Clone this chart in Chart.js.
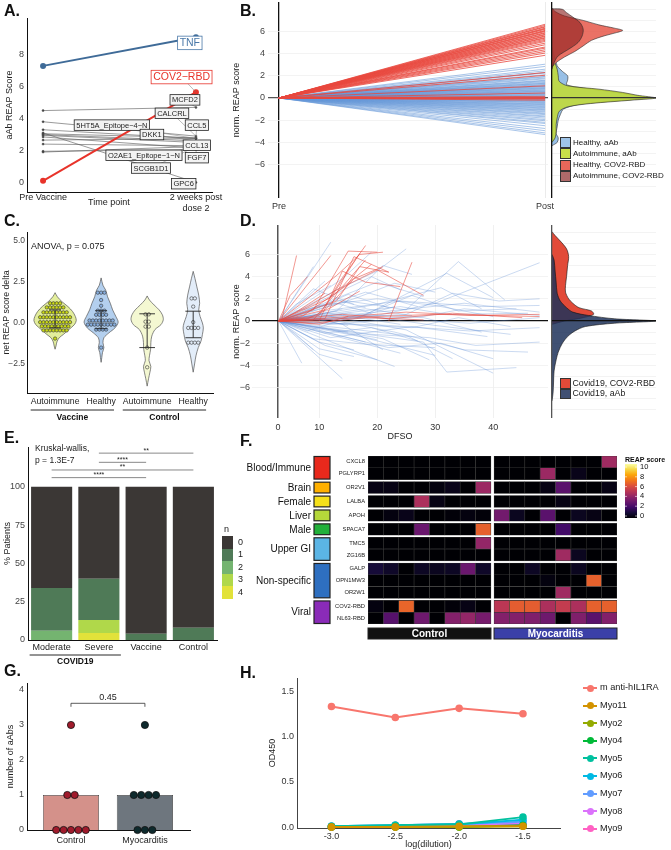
<!DOCTYPE html>
<html>
<head>
<meta charset="utf-8">
<title>REAP figure</title>
<script src="https://cdn.jsdelivr.net/npm/chart.js@4.4.1/dist/chart.umd.min.js"></script>
<style>
  body { margin: 0; width: 671px; height: 850px; position: relative; overflow: hidden; background: #fff;
         font-family: "Liberation Sans", Arial, sans-serif; color: #1a1a1a; }
  canvas, .txt, .sw { position: absolute; }
  .txt { white-space: nowrap; line-height: 1; z-index: 2; color: #1a1a1a; }
  .panel { font-size: 16px; font-weight: bold; color: #111; }
  .sw { box-sizing: border-box; border: 0.8px solid #333; z-index: 2; }
</style>
</head>
<body>
<div class="txt panel" style="left:4px;top:3px">A.</div>
<div class="txt panel" style="left:240px;top:3px">B.</div>
<div class="txt panel" style="left:4px;top:213px">C.</div>
<div class="txt panel" style="left:240px;top:213px">D.</div>
<div class="txt panel" style="left:4px;top:430px">E.</div>
<div class="txt panel" style="left:240px;top:433px">F.</div>
<div class="txt panel" style="left:4px;top:663px">G.</div>
<div class="txt panel" style="left:240px;top:665px">H.</div>
<div class="txt" style="left:88px;top:198px;font-size:9px">Time point</div>
<div class="txt" style="left:31px;top:242px;font-size:9px">ANOVA, p = 0.075</div>
<div class="txt" style="left:35px;top:444px;font-size:8.5px">Kruskal-wallis,</div>
<div class="txt" style="left:35px;top:456px;font-size:8.5px">p = 1.3E-7</div>
<div class="txt" style="left:224px;top:525px;font-size:9px">n</div>
<script>
// === A: aAb REAP scores before / after vaccine
const aTimes = ['Pre Vaccine', ['2 weeks post', 'dose 2']];
const aTnf = [7.3, 9.1];
const aCov = [0.1, 5.65];
const aOther = [
  [4.5, 4.7], [3.8, 2.9], [3.3, 2.75], [3.1, 0.0], [3.05, 2.8], [3.0, 2.6],
  [2.95, 2.5], [2.85, 2.15], [2.65, 2.75], [2.4, 2.3], [1.95, 2.05], [1.9, 2.25]
];
const aYTicks = [0, 2, 4, 6, 8];
const aLabText = ['TNF', 'COV2\u2212RBD', 'MCFD2', 'CALCRL', '5HT5A_Epitope\u22124\u2212N', 'CCL5', 'DKK1', 'CCL13',
  'O2AE1_Epitope\u22121\u2212N', 'FGF7', 'SCGB1D1', 'GPC6'];
const aLabX = [0.96, 0.906, 0.928, 0.843, 0.45, 1.006, 0.712, 1.006, 0.66, 1.006, 0.706, 0.92];
const aLabY = [8.74, 6.6, 5.17, 4.33, 3.59, 3.59, 3.0, 2.33, 1.7, 1.55, 0.9, -0.08];
const aLabTo = [9.1, 5.65, 4.7, 2.9, 2.75, 2.8, 2.6, 2.5, 2.15, 2.05, 2.25, 0.0];

// === B: normalised REAP score pre -> post
const bTimes = ['Pre', 'Post'];
const bRedPost = [6.65, 6.55, 6.45, 6.4, 6.3, 6.25, 6.2, 6.1, 6.05, 6.0, 5.9, 5.85, 5.75, 5.7, 5.6, 5.55, 5.45, 5.4,
  5.3, 5.2, 5.1, 4.95, 4.8, 4.6, 4.5, 4.35, 4.2, 4.05, 3.85, 2.3, 2.05, 1.1, 0.45, 0.15, 0.05, 0.0, 0.0, -0.05, -0.1, -0.2];
const bBluePost = [3.05, 2.85, 2.6, 2.45, 2.3, 2.25, 2.1, 1.95, 1.9, 1.8, 1.72, 1.6, 1.55, 1.48, 1.4, 1.33, 1.3, 1.22,
  1.18, 1.1, 1.05, 1.02, 0.95, 0.9, 0.86, 0.8, 0.74, 0.7, 0.63, 0.6, 0.55, 0.48, 0.45, 0.4, 0.33, 0.3, 0.25, 0.2, 0.14,
  0.1, 0.06, 0.02, -0.03, -0.08, -0.12, -0.18, -0.22, -0.27, -0.33, -0.38, -0.42, -0.5, -0.55, -0.6, -0.66, -0.72,
  -0.78, -0.85, -0.9, -0.97, -1.05, -1.1, -1.18, -1.25, -1.35, -1.42, -1.5, -1.62, -1.7, -1.82, -1.95, -2.05, -2.2,
  -2.3, -2.5, -2.75, -2.95, -3.15, -3.3];
const bYTicks = [-8, -7, -6, -5, -4, -3, -2, -1, 0, 1, 2, 3, 4, 5, 6, 7, 8];
const bDensLabels = ['Healthy, aAb', 'Autoimmune, aAb', 'Healthy, COV2-RBD', 'Autoimmune, COV2-RBD'];
const bDensColors = ['rgba(141,185,228,0.9)', 'rgba(196,220,48,0.85)', 'rgba(232,98,84,0.9)', 'rgba(140,32,30,0.62)'];
const bDensSwatch = ['#9fc4e8', '#c9df4a', '#e8675a', '#b06a6a'];
// [score, density]
const bDensHealthyAab = [[-4.3, 0], [-4.0, 0.05], [-3.6, 0.06], [-3.2, 0.04], [-2.6, 0.05], [-2.0, 0.06], [-1.5, 0.08],
  [-1.0, 0.11], [-0.6, 0.25], [-0.3, 0.55], [0, 0.9], [0.3, 0.75], [0.6, 0.55], [0.9, 0.3], [1.2, 0.14], [1.6, 0.15],
  [2.0, 0.15], [2.4, 0.1], [2.9, 0.05], [3.5, 0.03], [4.2, 0.01], [4.6, 0]];
const bDensAutoAab = [[-4.0, 0], [-3.6, 0.03], [-3.0, 0.04], [-2.4, 0.04], [-1.8, 0.05], [-1.2, 0.07], [-0.8, 0.15],
  [-0.5, 0.37], [-0.2, 0.76], [0, 1.0], [0.25, 0.82], [0.5, 0.68], [0.8, 0.45], [1.1, 0.15], [1.5, 0.07], [2.0, 0.06],
  [2.6, 0.05], [3.1, 0.03], [3.6, 0]];
const bDensHealthyCov = [[2.8, 0], [3.2, 0.04], [3.7, 0.12], [4.2, 0.22], [4.7, 0.3], [5.2, 0.38], [5.6, 0.5],
  [5.9, 0.62], [6.1, 0.68], [6.3, 0.6], [6.6, 0.45], [7.0, 0.3], [7.4, 0.12], [7.8, 0.03], [8.1, 0]];
const bDensAutoCov = [[2.6, 0], [3.2, 0.02], [3.8, 0.06], [4.4, 0.16], [5.0, 0.25], [5.6, 0.29], [6.2, 0.3], [6.8, 0.27],
  [7.3, 0.2], [7.7, 0.14], [8.0, 0.1], [8.05, 0]];

// === C: net REAP score delta
const cGroups = ['Autoimmune', 'Healthy', 'Autoimmune', 'Healthy'];
const cSuper = ['Vaccine', 'Control'];
const cYTicks = [-2.5, 0, 2.5, 5];
// [score, half width]
const cViolins = [
  [[1.85, 0], [1.6, 0.05], [1.3, 0.15], [1.0, 0.28], [0.7, 0.38], [0.4, 0.44], [0.15, 0.46], [-0.1, 0.42], [-0.4, 0.3],
   [-0.7, 0.18], [-0.9, 0.09], [-1.15, 0.04], [-1.4, 0.02], [-1.6, 0]],
  [[2.75, 0], [2.3, 0.04], [2.0, 0.1], [1.6, 0.14], [1.2, 0.2], [0.8, 0.25], [0.4, 0.32], [0.05, 0.37], [-0.3, 0.3],
   [-0.6, 0.17], [-0.9, 0.06], [-1.2, 0.04], [-1.5, 0.06], [-1.8, 0.03], [-2.1, 0.015], [-2.4, 0]],
  [[1.65, 0], [1.4, 0.05], [1.1, 0.15], [0.8, 0.26], [0.5, 0.33], [0.2, 0.35], [-0.1, 0.3], [-0.4, 0.17], [-0.8, 0.1],
   [-1.2, 0.08], [-1.6, 0.075], [-2.0, 0.05], [-2.3, 0.04], [-2.65, 0.08], [-3.0, 0.06], [-3.4, 0.03], [-3.85, 0]],
  [[3.15, 0], [2.7, 0.04], [2.2, 0.08], [1.7, 0.12], [1.2, 0.14], [0.8, 0.12], [0.4, 0.15], [0, 0.2], [-0.3, 0.22],
   [-0.7, 0.2], [-1.1, 0.17], [-1.5, 0.11], [-2.0, 0.06], [-2.5, 0.03], [-3.0, 0]]
];
// [score, number of dots in that row]
const cDots = [
  [[1.2, 4], [0.95, 6], [0.65, 8], [0.35, 10], [0.05, 10], [-0.2, 9], [-0.45, 8], [-0.95, 1]],
  [[1.85, 3], [1.4, 1], [1.05, 1], [0.75, 3], [0.5, 4], [0.15, 8], [-0.1, 9], [-0.4, 4], [-1.5, 1]],
  [[0.53, 2], [0.08, 2], [-0.22, 2], [-1.5, 1], [-2.7, 1]],
  [[1.5, 2], [1.0, 1], [0.05, 1], [-0.3, 4], [-1.2, 4]]
];
const cMean = [0.25, 0.2, -0.47, -0.09];
const cSd = [0.55, 0.55, 1.03, 0.81];
const cFill = ['#e3ee9c', '#b3cfee', '#f4f8d2', '#e3edf9'];
const cDotFill = ['#c9d816', '#86aee0', '#f4f8d2', '#e3edf9'];

// === D: trajectories over days from symptom onset
const dTicks = [2.9, 10, 20, 30, 40];
const dTickLabels = ['0', '10', '20', '30', '40'];
const dBlue = [
  [[3, 0], [7, -3.8]], [[3, 0], [6, 1.5], [12, 3.2]], [[3, 0], [9, 4.9]], [[3, 0], [12, 7.1]],
  [[3, 0], [10, -2.5], [16, -3.2]], [[3, 0], [14, -5.2]], [[3, 0], [8, 0.8], [15, 2.4], [22, 1.2]],
  [[3, 0], [11, -1.1], [19, -0.6], [27, -1.8]], [[3, 0], [13, 2.8], [20, 4.5], [25, 6.5]], [[3, 0], [18, 1.1], [26, 0.5]],
  [[3, 0], [16, -1.8], [24, -2.9]], [[3, 0], [20, 3.5], [28, 2.2]], [[3, 0], [9, -0.6], [17, -1.4], [30, -3.1]],
  [[3, 0], [12, 0.4], [22, 0.9], [35, 1.6], [48, 0.8]], [[3, 0], [15, 1.8], [25, 1.0], [34, 5.35], [42, 1.9]],
  [[3, 0], [17, 0.3], [32, 4.3], [40, 2.1]], [[3, 0], [10, 0.6], [25, -0.8], [40, -4.7]],
  [[3, 0], [14, -0.9], [28, -1.9], [32, -4.6], [44, -4.2]], [[3, 0], [20, 0.5], [30, 1.6], [48, 5.25]],
  [[3, 0], [11, -2.2], [20, -3.5]], [[3, 0], [6, -1.2], [9, -2.6]], [[3, 0], [8, 2.2], [11, 3.6]],
  [[3, 0], [19, -1.2], [29, -1.5], [37, -2.2], [48, -1.9]], [[3, 0], [22, -0.4], [36, -0.9], [48, -0.6]],
  [[3, 0], [12, 1.0], [24, 1.8], [38, 1.3], [48, 1.4]], [[3, 0], [16, 0.2], [26, 2.3], [34, 0.9], [44, 1.1]],
  [[3, 0], [7, 0.5], [14, -0.3], [21, -2.6]], [[3, 0], [9, -1.6], [18, -2.1], [30, -2.4]],
  [[3, 0], [13, 0.9], [21, 5.0], [26, 4.2]], [[3, 0], [15, -0.7], [25, -1.3], [33, -3.4]],
  [[3, 0], [10, 1.4], [20, 2.0], [30, 1.4], [40, 0.4]], [[3, 0], [12, -0.3], [24, 0.2], [36, -0.2], [48, 0.3]],
  [[3, 0], [18, 2.6], [27, 1.3]], [[3, 0], [8, -0.9], [17, 0.6], [28, 0.3], [38, -1.0]], [[3, 0], [21, -1.6], [29, -3.5]],
  [[3, 0], [14, 3.8], [19, 6.2]], [[3, 0], [25, 0.6], [33, 2.5], [41, 1.8], [48, 2.0]],
  [[3, 0], [11, 0.2], [23, -1.0], [35, -2.6], [46, -2.8]], [[3, 0], [9, 2.9], [16, 1.5]],
  [[3, 0], [6, 0.9], [13, 1.6], [19, 0.7]], [[3, 0], [17, -2.9], [23, -4.1]], [[3, 0], [24, 1.3], [32, 0.6], [46, 0.7]],
  [[3, 0], [12, -1.5], [26, -0.5], [39, -1.4]], [[3, 0], [19, 4.0], [24, 2.8]], [[3, 0], [7, -0.4], [12, -1.1], [18, -1.9]],
  [[3, 0], [28, 0.4], [35, 1.1], [48, 0.5]], [[3, 0], [15, 0.7], [30, -0.4], [43, -1.2]],
  [[3, 0], [20, 1.5], [31, 3.0], [38, 1.1]], [[3, 0], [10, -3.0], [14, -3.6]], [[3, 0], [16, 2.0], [23, 3.4], [30, 2.6]],
  [[3, 0], [22, -2.4], [31, -2.0], [40, -3.4]], [[3, 0], [26, -0.6], [34, 0.3], [43, -0.5]],
  [[3, 0], [8, 0.3], [14, 1.1]], [[3, 0], [9, -0.5], [15, -1.0]], [[3, 0], [11, 0.7], [17, 0.4], [23, 1.3]],
  [[3, 0], [12, -0.8], [20, -1.7]], [[3, 0], [13, 1.9], [18, 1.2]], [[3, 0], [10, -1.9], [16, -2.6]],
  [[3, 0], [14, 0.5], [24, -0.3]], [[3, 0], [6, 0.3], [10, 0.1], [15, -0.4]]
];
const dRed = [
  [[3.5, 0], [6.1, 5.9]], [[3, 0], [12, 2.1], [17, 6.1]], [[3, 0], [9, 1.0], [15, 6.3], [20, 6.2]],
  [[3, 0], [10, 0.5], [14, 3.9], [18, 6.8]], [[3, 0], [11, 0.2], [16, 5.8], [22, 4.4]], [[3, 0], [12, 5.9]],
  [[3, 0], [8, 1.3], [14, 3.1], [18, 5.5]], [[3, 0], [13, 1.8], [17, 4.9], [22, 4.4]],
  [[3, 0], [7, 0.4], [15, 3.3], [20, 4.6], [28, 2.3]], [[3, 0], [9, 0.1], [13, 2.6], [19, 5.1]], [[3, 0], [6, 0.8], [11, 2.5]],
  [[3, 0], [10, 0], [14, 4.5], [18, 3.5], [24, 3.1]], [[3, 0], [8, 0.2], [12, 1.2], [17, 2.7]], [[22, 0], [26, 5.3]],
  [[3, 0], [10, 0.1], [20, 0.4], [30, 0.6], [48, 0.4]], [[3, 0], [12, 0.3], [25, 0.8], [36, 0.5], [48, 0.6]],
  [[3, 0], [9, -0.2], [18, 0.3], [28, 0.1]], [[3, 0], [14, 0.6], [22, 0.2], [33, 0.7], [45, 0.3]],
  [[3, 0], [5, 2.3], [8, 4.0]], [[3, 0], [11, 1.0], [16, 3.8], [21, 4.9]], [[3, 0], [10, -0.3], [15, 0.4]],
  [[3, 0], [7, 1.6], [13, 4.1], [17, 6.0], [21, 6.2]]
];
const dDensLabels = ['Covid19, COV2-RBD', 'Covid19, aAb'];
const dDensColors = ['rgba(226,74,56,1)', 'rgba(30,50,90,0.85)'];
const dDensSwatch = ['#e24a38', '#405073'];
const dDensCov = [[-0.3, 0], [0, 0.12], [0.3, 0.3], [0.6, 0.4], [0.9, 0.38], [1.2, 0.26], [1.6, 0.2], [2.0, 0.16],
  [2.6, 0.13], [3.2, 0.13], [4.0, 0.14], [5.0, 0.15], [5.8, 0.16], [6.5, 0.14], [7.2, 0.08], [7.7, 0.03], [8.05, 0]];
const dDensAab = [[-7.2, 0], [-6.5, 0.01], [-5.5, 0.015], [-4.5, 0.02], [-3.5, 0.04], [-2.8, 0.06], [-2.0, 0.1],
  [-1.4, 0.15], [-0.9, 0.22], [-0.5, 0.32], [-0.2, 0.6], [0, 1.0], [0.2, 0.6], [0.5, 0.35], [0.8, 0.2], [1.2, 0.14],
  [1.8, 0.08], [2.5, 0.05], [3.5, 0.04], [4.5, 0.03], [5.5, 0.02], [6.0, 0]];

// === E: % patients by number of aAbs
const eCats = ['Moderate', 'Severe', 'Vaccine', 'Control'];
const eLevels = ['0', '1', '2', '3', '4'];
const eColors = ['#3b3735', '#4f7a57', '#74b470', '#b0d84a', '#e2e23a'];
const eN0 = [66, 60, 96, 92];
const eN1 = [28, 27, 4, 8];
const eN2 = [6, 0, 0, 0];
const eN3 = [0, 8.5, 0, 0];
const eN4 = [0, 4.5, 0, 0];
const eYTicks = [0, 25, 50, 75, 100];
// [from, to, height, label]
const eBrackets = [[1, 3, 122, '**'], [1, 2, 116, '****'], [0, 3, 111, '**'], [0, 2, 106, '****']];

// === F: heatmap
const fGenes = ['CXCL8', 'PGLYRP1', 'OR2V1', 'LALBA', 'APOH', 'SPACA7', 'TMC5', 'ZG16B', 'GALP', 'OPN1MW3', 'OR2W1', 'COV2-RBD', 'NL63-RBD'];
const fGroupNames = ['Blood/Immune', 'Brain', 'Female', 'Liver', 'Male', 'Upper GI', 'Non-specific', 'Viral'];
const fGroupSizes = [2, 1, 1, 1, 1, 2, 3, 2];
const fGroupColors = ['#e8291c', '#ffb000', '#f5e01a', '#b5d83a', '#22b03a', '#5bb5e5', '#2e6fc0', '#8a2bb8'];
const fConditions = ['Control', 'Myocarditis'];
const fCondColors = ['#111111', '#3b40a8'];
const fScores = [
  [0, 0, 0, 0, 0, 0, 0, 0, 0, 0, 0, 0, 0, 0, 0, 4.3],
  [0, 0, 0, 0, 0, 0, 0, 0, 0, 0, 0, 4.2, 0, 0.4, 0, 0],
  [0.3, 0.3, 0, 0, 0.2, 0.4, 0, 4.2, 0, 0, 0, 0.3, 2.6, 0, 0, 0.3],
  [0, 0, 0, 4.6, 0.3, 0, 0, 0, 0, 0, 0, 0, 0.3, 0, 0, 0],
  [0, 0.2, 0.4, 0, 0, 0.1, 0.2, 0.1, 3.2, 0.5, 0, 2.6, 0, 0.5, 0.3, 0],
  [0, 0, 0, 3.0, 0, 0, 0, 6.4, 0, 0, 0, 0, 2.0, 0, 0, 0],
  [0, 0, 0, 0, 0, 0, 0, 4.0, 0, 0, 0, 0, 0, 0, 0, 0],
  [0, 0, 0, 0, 0, 0, 0, 0, 0, 0, 0, 0, 4.3, 0.5, 0, 0],
  [1.0, 0.7, 0, 0.6, 0.5, 0.6, 3.0, 0.7, 0, 0, 0.6, 0, 0, 0.5, 0, 0],
  [0, 0, 0, 0, 0, 0, 0, 0, 0, 0, 0, 0.2, 0, 0, 6.4, 0],
  [0, 0, 0, 0, 0, 0, 0, 0, 0, 0, 0, 0, 4.3, 0, 0, 0],
  [0.2, 0, 6.5, 0, 0, 0.1, 0.3, 0, 5.0, 6.3, 6.3, 4.6, 5.2, 4.6, 6.4, 6.4],
  [0, 2.5, 0, 3.1, 0, 3.6, 4.0, 3.3, 3.6, 3.6, 3.5, 3.1, 0, 3.5, 2.6, 3.6]
];
const fScaleTicks = [0, 2, 4, 6, 8, 10];
const infernoStops = ['#000004', '#160b39', '#420a68', '#6a176e', '#932667', '#bc3754', '#dd513a', '#f37819', '#fca50a', '#f6d746', '#fcffa4'];

// === G: number of aAbs
const gCats = ['Control', 'Myocarditis'];
const gBars = [1, 1];
const gDotRows = [[[3, 1], [1, 2], [0, 5]], [[3, 1], [1, 4], [0, 3]]];
const gBarColors = ['#d4918a', '#6e767e'];
const gDotColors = ['#a01b2c', '#0e2a2d'];
const gYTicks = [0, 1, 2, 3, 4];
const gPval = '0.45';

// === H: ELISA OD450
const hDilution = [-3, -2.5, -2, -1.5];
const hNames = ['m anti-hIL1RA', 'Myo11', 'Myo2', 'Myo4', 'Myo5', 'Myo6', 'Myo7', 'Myo8', 'Myo9'];
const hColors = ['#f8766d', '#d39200', '#93aa00', '#00ba38', '#00c19f', '#00b9e3', '#619cff', '#db72fb', '#ff61c3'];
const hOD = [
  [1.33, 1.21, 1.31, 1.25],
  [0, 0, 0.01, 0.01],
  [0, 0, 0, 0.01],
  [0, 0, 0, 0.02],
  [0.01, 0.02, 0.03, 0.11],
  [0.01, 0.02, 0.03, 0.08],
  [0.01, 0.02, 0.035, 0.06],
  [0.005, 0.01, 0.02, 0.04],
  [0, 0.005, 0.01, 0.025]
];
const hYTicks = [0, 0.5, 1, 1.5];

// ---------------------------------------------------------------
const FONT = '"Liberation Sans", Arial, sans-serif';
Chart.defaults.font.family = FONT;
Chart.defaults.font.size = 9;
Chart.defaults.color = '#333';
Chart.defaults.animation = false;
Chart.defaults.responsive = false;
Chart.defaults.plugins.legend.display = false;
Chart.defaults.plugins.tooltip.enabled = false;
Chart.defaults.elements.point.radius = 0;
Chart.defaults.elements.point.hoverRadius = 0;

function canvasAt(r) {
  const c = document.createElement('canvas');
  c.width = r[2]; c.height = r[3];
  c.style.cssText = `left:${r[0]}px;top:${r[1]}px;width:${r[2]}px;height:${r[3]}px`;
  document.body.appendChild(c);
  return c;
}
function padFor(cv, plot, yW, xH) {
  return { left: plot[0] - cv[0] - yW, top: plot[1] - cv[1], right: cv[0] + cv[2] - plot[2], bottom: cv[1] + cv[3] - plot[3] - xH };
}
const fixW = w => s => { s.width = w; s.paddingTop = 0; s.paddingBottom = 0; };
const fixH = h => s => { s.height = h; s.paddingLeft = 0; s.paddingRight = 0; };
const setTicks = vals => s => { s.ticks = vals.map(value => ({ value })); };
const minus = v => (v < 0 ? '\u2212' + Math.abs(v) : String(v));
const pts = arr => arr.map(([x, y]) => ({ x, y }));
const densPts = arr => arr.map(([y, x]) => ({ x, y }));
const noGrid = { display: false, drawTicks: false };
const blackBorder = { display: true, color: '#111', width: 1 };

function legendBox(items, colors, left, top, step, size, fontSize, opts = {}) {
  items.forEach((t, i) => {
    const sw = document.createElement('div');
    sw.className = 'sw';
    sw.style.cssText = `left:${left}px;top:${top + i * step}px;width:${opts.w || size}px;height:${size}px;background:${colors[i]}` +
      (opts.noBorder ? ';border:none' : '');
    document.body.appendChild(sw);
    const tx = document.createElement('div');
    tx.className = 'txt';
    tx.textContent = t;
    tx.style.cssText = `left:${left + (opts.textGap || size + 2)}px;top:${top + i * step + (size - fontSize) / 2}px;font-size:${fontSize}px`;
    document.body.appendChild(tx);
  });
}

// ---------- A ----------
{
  const cv = [0, 0, 230, 215], plot = [27, 18, 212, 192];
  const labels = {
    id: 'aLabels',
    afterDatasetsDraw(chart) {
      const { ctx, scales: { x, y } } = chart;
      ctx.save();
      aLabText.forEach((t, i) => {
        ctx.strokeStyle = '#777'; ctx.lineWidth = 0.5;
        ctx.beginPath();
        ctx.moveTo(x.getPixelForValue(aLabX[i]), y.getPixelForValue(aLabY[i]));
        ctx.lineTo(x.getPixelForValue(1), y.getPixelForValue(aLabTo[i]));
        ctx.stroke();
      });
      aLabText.forEach((t, i) => {
        const big = i < 2;
        const col = i === 0 ? '#4a78a8' : i === 1 ? '#e8332a' : '#222';
        const fs = big ? 10.5 : 7.5;
        ctx.font = `${fs}px ${FONT}`;
        const w = ctx.measureText(t).width + 4, h = fs + 3;
        const cx = x.getPixelForValue(aLabX[i]), cy = y.getPixelForValue(aLabY[i]);
        ctx.fillStyle = big ? '#fff' : '#f3f3f3';
        ctx.fillRect(cx - w / 2, cy - h / 2, w, h);
        ctx.strokeStyle = col; ctx.lineWidth = 0.8;
        ctx.strokeRect(cx - w / 2, cy - h / 2, w, h);
        ctx.fillStyle = col; ctx.textAlign = 'center'; ctx.textBaseline = 'middle';
        ctx.fillText(t, cx, cy + 0.5);
      });
      ctx.restore();
    }
  };
  new Chart(canvasAt(cv), {
    type: 'scatter',
    data: {
      datasets: [
        { data: aTnf.map((y, x) => ({ x, y })), showLine: true, borderColor: '#3f6b98', backgroundColor: '#3f6b98', borderWidth: 2, pointRadius: 2 },
        { data: aCov.map((y, x) => ({ x, y })), showLine: true, borderColor: '#e8332a', backgroundColor: '#e8332a', borderWidth: 2, pointRadius: 2 },
        ...aOther.map(p => ({ data: p.map((y, x) => ({ x, y })), showLine: true, borderColor: '#555', backgroundColor: '#333', borderWidth: 0.6, pointRadius: 1 }))
      ]
    },
    options: {
      layout: { padding: padFor(cv, plot, 27, 23) },
      scales: {
        x: { type: 'linear', min: -0.105, max: 1.105, afterFit: fixH(23), afterBuildTicks: setTicks([0, 1]),
             grid: noGrid, border: blackBorder, ticks: { padding: 0, maxRotation: 0, color: '#222', callback: (v, i) => aTimes[i] } },
        y: { min: -0.6, max: 10.3, afterFit: fixW(27), afterBuildTicks: setTicks(aYTicks), grid: noGrid, border: blackBorder,
             ticks: { padding: 3, color: '#444' }, title: { display: true, text: 'aAb REAP Score', padding: { top: 4, bottom: 0 }, color: '#222' } }
      }
    },
    plugins: [labels]
  });
}

// ---------- B ----------
{
  const cv = [230, 0, 340, 215], plot = [268, 2, 548, 198];
  const line = (v, color, w) => ({ data: [{ x: 0, y: 0 }, { x: 1, y: v }], showLine: true, borderColor: color, borderWidth: w });
  new Chart(canvasAt(cv), {
    type: 'scatter',
    data: { datasets: [...bRedPost.map(v => line(v, '#e8483e', 0.8)), ...bBluePost.map(v => line(v, 'rgba(100,150,215,0.8)', 0.7))] },
    options: {
      layout: { padding: padFor(cv, plot, 38, 17) },
      scales: {
        x: { type: 'linear', min: -0.041, max: 1.011, afterFit: fixH(17), afterBuildTicks: setTicks([0, 1]), border: { display: false },
             grid: { drawTicks: false, color: c => c.tick && c.tick.value === 0 ? '#111' : '#e6e6e6', lineWidth: c => c.tick && c.tick.value === 0 ? 1.3 : 0.8 },
             ticks: { padding: 3, color: '#333', callback: (v, i) => bTimes[i] } },
        y: { min: -9.02, max: 8.66, afterFit: fixW(38), afterBuildTicks: setTicks(bYTicks), border: { display: false },
             grid: { drawTicks: false, color: c => c.tick && c.tick.value === 0 ? '#555' : '#eeeeee', lineWidth: c => c.tick && c.tick.value === 0 ? 1.2 : 0.7 },
             ticks: { padding: 3, color: '#444', callback: v => (v % 2 === 0 && Math.abs(v) <= 6 ? minus(v) : null) },
             title: { display: true, text: 'norm. REAP score', padding: { top: 1, bottom: 0 }, color: '#222' } }
      }
    }
  });
  const cvd = [548, 0, 123, 215], plotd = [552, 2, 656, 198];
  const series = [bDensAutoCov, bDensHealthyCov, bDensAutoAab, bDensHealthyAab];
  const cols = [bDensColors[3], bDensColors[2], bDensColors[1], bDensColors[0]];
  new Chart(canvasAt(cvd), {
    type: 'scatter',
    data: { datasets: series.map((s, i) => ({ data: densPts(s), showLine: true, fill: 'shape', tension: 0.3, backgroundColor: cols[i], borderColor: '#2a2a2a', borderWidth: 0.6 })) },
    options: {
      layout: { padding: padFor(cvd, plotd, 0, 0) },
      scales: {
        x: { type: 'linear', min: 0, max: 1.0, afterFit: fixH(0), afterBuildTicks: setTicks([0]), ticks: { display: false }, border: { display: false },
             grid: { drawTicks: false, color: '#111', lineWidth: 1.3, z: 1 } },
        y: { min: -9.02, max: 8.66, afterFit: fixW(0), afterBuildTicks: setTicks(bYTicks), ticks: { display: false }, border: { display: false },
             grid: { drawTicks: false, color: '#eeeeee', lineWidth: 0.7 } },
        y2: { position: 'right', min: -9.02, max: 8.66, afterFit: fixW(0), afterBuildTicks: setTicks([0]), ticks: { display: false }, border: { display: false },
              grid: { drawTicks: false, color: '#333', lineWidth: 1.2, z: 1 } }
      }
    }
  });
  legendBox(bDensLabels, bDensSwatch, 560, 137, 11.3, 11, 8);
}

// ---------- C ----------
{
  const cv = [0, 212, 230, 214], plot = [27, 232, 213, 393];
  const violin = (c, prof) => prof.map(([y, w]) => ({ x: c + w, y })).concat(prof.slice().reverse().map(([y, w]) => ({ x: c - w, y })));
  const dots = (c, rows) => {
    const out = [];
    rows.forEach(([y, n]) => { for (let k = 0; k < n; k++) out.push({ x: c + (k - (n - 1) / 2) * 0.072, y }); });
    return out;
  };
  const seg = (a, b) => ({ data: [a, b], showLine: true, borderColor: '#222', borderWidth: 0.9 });
  const bars = [];
  cMean.forEach((m, i) => {
    const c = i + 1, lo = m - cSd[i], hi = m + cSd[i], hw = i < 2 ? 0.13 : 0.17;
    bars.push(seg({ x: c, y: lo }, { x: c, y: hi }));
    bars.push(seg({ x: c - hw, y: lo }, { x: c + hw, y: lo }));
    bars.push(seg({ x: c - hw, y: hi }, { x: c + hw, y: hi }));
  });
  const groupLabels = {
    id: 'cGroups',
    afterDraw(chart) {
      const { ctx, chartArea: a, scales: { x } } = chart;
      ctx.save();
      cSuper.forEach((name, g) => {
        const x0 = x.getPixelForValue(2 * g + 1 - 0.53), x1 = x.getPixelForValue(2 * g + 2 + 0.28);
        ctx.strokeStyle = '#111'; ctx.lineWidth = 0.9;
        ctx.beginPath(); ctx.moveTo(x0, a.bottom + 17); ctx.lineTo(x1, a.bottom + 17); ctx.stroke();
        ctx.font = `bold 8.5px ${FONT}`; ctx.fillStyle = '#111'; ctx.textAlign = 'center'; ctx.textBaseline = 'middle';
        ctx.fillText(name, (x0 + x1) / 2, a.bottom + 25);
      });
      ctx.restore();
    }
  };
  new Chart(canvasAt(cv), {
    type: 'scatter',
    data: {
      datasets: [
        ...bars,
        ...cDots.map((rows, i) => ({ data: dots(i + 1, rows), pointRadius: 1.7, pointBackgroundColor: cDotFill[i], pointBorderColor: '#333', pointBorderWidth: 0.6 })),
        ...cViolins.map((p, i) => ({ data: violin(i + 1, p), showLine: true, fill: 'shape', tension: 0.3, backgroundColor: cFill[i], borderColor: '#555', borderWidth: 0.7 }))
      ]
    },
    options: {
      layout: { padding: padFor(cv, plot, 27, 33) },
      scales: {
        x: { type: 'linear', min: 0.39, max: 4.43, afterFit: fixH(33), afterBuildTicks: setTicks([1, 2, 3, 4]), grid: noGrid, border: blackBorder,
             ticks: { padding: 3, color: '#222', font: { size: 8.7 }, callback: (v, i) => cGroups[i] } },
        y: { min: -4.27, max: 5.55, afterFit: fixW(27), afterBuildTicks: setTicks(cYTicks), grid: noGrid, border: blackBorder,
             ticks: { padding: 2, color: '#444', font: { size: 8.5 }, callback: v => (v < 0 ? '\u2212' : '') + Math.abs(v).toFixed(1) },
             title: { display: true, text: 'net REAP score delta', padding: { top: 1, bottom: 0 }, color: '#222', font: { size: 8.8 } } }
      }
    },
    plugins: [groupLabels]
  });
}

// ---------- D ----------
{
  const cv = [230, 212, 320, 233], plot = [252, 225, 548, 418];
  const traj = (p, color) => ({ data: pts(p), showLine: true, borderColor: color, borderWidth: 0.8 });
  new Chart(canvasAt(cv), {
    type: 'scatter',
    data: { datasets: [...dRed.map(p => traj(p, 'rgba(232,70,60,0.7)')), ...dBlue.map(p => traj(p, 'rgba(90,140,210,0.4)'))] },
    options: {
      layout: { padding: padFor(cv, plot, 22, 27) },
      scales: {
        x: { type: 'linear', min: -1.58, max: 49.45, afterFit: fixH(27), afterBuildTicks: setTicks(dTicks), border: { display: false },
             grid: { drawTicks: false, color: c => c.index === 0 ? '#555' : '#ececec', lineWidth: c => c.index === 0 ? 1.5 : 0.8 },
             ticks: { padding: 4, color: '#333', callback: (v, i) => dTickLabels[i] },
             title: { display: true, text: 'DFSO', padding: { top: 0, bottom: 3 }, color: '#222' } },
        y: { min: -8.74, max: 8.65, afterFit: fixW(22), afterBuildTicks: setTicks(bYTicks), border: { display: false },
             grid: { drawTicks: false, color: c => c.tick && c.tick.value === 0 ? '#111' : '#eeeeee', lineWidth: c => c.tick && c.tick.value === 0 ? 1.3 : 0.7 },
             ticks: { padding: 2, color: '#444', callback: v => (v % 2 === 0 && Math.abs(v) <= 6 ? minus(v) : null) },
             title: { display: true, text: 'norm. REAP score', padding: { top: 1, bottom: 0 }, color: '#222' } }
      }
    }
  });
  const cvd = [548, 212, 123, 233], plotd = [552, 225, 656, 418];
  new Chart(canvasAt(cvd), {
    type: 'scatter',
    data: {
      datasets: [
        { data: densPts(dDensAab), showLine: true, fill: 'shape', tension: 0.3, backgroundColor: dDensColors[1], borderColor: '#111', borderWidth: 0.6 },
        { data: densPts(dDensCov), showLine: true, fill: 'shape', tension: 0.3, backgroundColor: dDensColors[0], borderColor: '#111', borderWidth: 0.6 }
      ]
    },
    options: {
      layout: { padding: padFor(cvd, plotd, 0, 0) },
      scales: {
        x: { type: 'linear', min: 0, max: 1.0, afterFit: fixH(0), afterBuildTicks: setTicks([0]), ticks: { display: false }, border: { display: false },
             grid: { drawTicks: false, color: '#555', lineWidth: 1.3, z: 1 } },
        y: { min: -8.74, max: 8.65, afterFit: fixW(0), afterBuildTicks: setTicks(bYTicks), ticks: { display: false }, border: { display: false },
             grid: { drawTicks: false, color: '#eeeeee', lineWidth: 0.7 } },
        y2: { position: 'right', min: -8.74, max: 8.65, afterFit: fixW(0), afterBuildTicks: setTicks([0]), ticks: { display: false }, border: { display: false },
              grid: { drawTicks: false, color: '#111', lineWidth: 1.3, z: 1 } }
      }
    }
  });
  legendBox(dDensLabels, dDensSwatch, 560, 378, 10.5, 10.5, 8.8);
}

// ---------- E ----------
{
  const cv = [0, 428, 230, 242], plot = [28, 447, 217, 640];
  const decor = {
    id: 'eDecor',
    afterDraw(chart) {
      const { ctx, chartArea: a, scales: { x, y } } = chart;
      ctx.save();
      eBrackets.forEach(([i, j, h, t]) => {
        const yy = y.getPixelForValue(h);
        ctx.strokeStyle = '#555'; ctx.lineWidth = 0.7;
        ctx.beginPath(); ctx.moveTo(x.getPixelForValue(i), yy); ctx.lineTo(x.getPixelForValue(j), yy); ctx.stroke();
        ctx.font = `7px ${FONT}`; ctx.fillStyle = '#222'; ctx.textAlign = 'center'; ctx.textBaseline = 'bottom';
        ctx.fillText(t, (x.getPixelForValue(i) + x.getPixelForValue(j)) / 2, yy + 1);
      });
      const x0 = x.getPixelForValue(0) - 22, x1 = x.getPixelForValue(1) + 22;
      ctx.strokeStyle = '#111'; ctx.lineWidth = 0.9;
      ctx.beginPath(); ctx.moveTo(x0, a.bottom + 15); ctx.lineTo(x1, a.bottom + 15); ctx.stroke();
      ctx.font = `bold 8.5px ${FONT}`; ctx.fillStyle = '#111'; ctx.textAlign = 'center'; ctx.textBaseline = 'middle';
      ctx.fillText('COVID19', (x0 + x1) / 2, a.bottom + 22);
      ctx.restore();
    }
  };
  const stack = [eN0, eN1, eN2, eN3, eN4];
  new Chart(canvasAt(cv), {
    type: 'bar',
    data: {
      labels: eCats,
      datasets: [4, 3, 2, 1, 0].map(k => ({ label: eLevels[k], data: stack[k], backgroundColor: eColors[k], borderWidth: 0, barPercentage: 0.87, categoryPercentage: 1 }))
    },
    options: {
      layout: { padding: padFor(cv, plot, 28, 30) },
      scales: {
        x: { stacked: true, afterFit: fixH(30), grid: noGrid, border: blackBorder, ticks: { padding: 2, color: '#222' } },
        y: { stacked: true, min: 0, max: 126, afterFit: fixW(28), afterBuildTicks: setTicks(eYTicks), grid: noGrid, border: blackBorder,
             ticks: { padding: 3, color: '#444' }, title: { display: true, text: '% Patients', padding: { top: 2, bottom: 0 }, color: '#222' } }
      }
    },
    plugins: [decor]
  });
  legendBox(eLevels, eColors, 222, 536, 12.5, 12.5, 9, { w: 11, noBorder: true, textGap: 16 });
}

// ---------- F ----------
{
  const cv = [230, 445, 441, 200], plot = [368, 456, 617, 624];
  const gap = 0.18;
  const rowTop = [];
  let pos = 0;
  fGroupSizes.forEach((n, g) => {
    for (let k = 0; k < n; k++) { rowTop.push(pos); pos += 1; }
    if (g < fGroupSizes.length - 1) pos += gap;
  });
  const total = pos;
  const colX = fScores[0].map((_, j) => (j < 8 ? j : j + 0.2));
  const hex = h => { const n = parseInt(h.slice(1), 16); return [n >> 16, (n >> 8) & 255, n & 255]; };
  const inferno = v => {
    const t = Math.max(0, Math.min(10, v)), i = Math.min(9, Math.floor(t)), f = t - i;
    const a = hex(infernoStops[i]), b = hex(infernoStops[i + 1]);
    return 'rgb(' + a.map((c, k) => Math.round(c + (b[k] - c) * f)).join(',') + ')';
  };
  const decor = {
    id: 'fDecor',
    afterDraw(chart) {
      const { ctx, chartArea: a, scales: { x, y } } = chart;
      ctx.save();
      let r = 0;
      fGroupNames.forEach((name, g) => {
        const top = y.getPixelForValue(rowTop[r]), bot = y.getPixelForValue(rowTop[r + fGroupSizes[g] - 1] + 1);
        r += fGroupSizes[g];
        ctx.fillStyle = fGroupColors[g];
        ctx.fillRect(a.left - 54, top + 0.5, 16, bot - top - 1);
        ctx.strokeStyle = '#222'; ctx.lineWidth = 1.2;
        ctx.strokeRect(a.left - 54, top + 0.5, 16, bot - top - 1);
        ctx.font = `10px ${FONT}`; ctx.fillStyle = '#111'; ctx.textAlign = 'right'; ctx.textBaseline = 'middle';
        ctx.fillText(name, a.left - 57, (top + bot) / 2 + 0.5);
      });
      fConditions.forEach((name, k) => {
        const x0 = x.getPixelForValue(colX[k * 8] - 0.5), x1 = x.getPixelForValue(colX[k * 8 + 7] + 0.5);
        ctx.fillStyle = fCondColors[k]; ctx.fillRect(x0, a.bottom + 4, x1 - x0, 11);
        ctx.strokeStyle = '#222'; ctx.lineWidth = 1; ctx.strokeRect(x0, a.bottom + 4, x1 - x0, 11);
        ctx.font = `bold 10px ${FONT}`; ctx.fillStyle = '#fff'; ctx.textAlign = 'center'; ctx.textBaseline = 'middle';
        ctx.fillText(name, (x0 + x1) / 2, a.bottom + 10);
      });
      const bx = a.right + 8, by = a.top + 8, bw = 12, bh = 54;
      const grad = ctx.createLinearGradient(0, by + bh, 0, by);
      infernoStops.forEach((c, i) => grad.addColorStop(i / 10, c));
      ctx.fillStyle = grad; ctx.fillRect(bx, by, bw, bh);
      ctx.font = `bold 7px ${FONT}`; ctx.fillStyle = '#111'; ctx.textAlign = 'left'; ctx.textBaseline = 'alphabetic';
      ctx.fillText('REAP score', bx, by - 2);
      ctx.font = `7.5px ${FONT}`; ctx.textBaseline = 'middle';
      fScaleTicks.forEach(v => {
        const yy = by + 3 + (10 - v) / 10 * (bh - 5);
        ctx.fillText(String(v), bx + bw + 3, yy);
        ctx.strokeStyle = '#fff'; ctx.lineWidth = 0.6;
        ctx.beginPath(); ctx.moveTo(bx, yy); ctx.lineTo(bx + 2, yy); ctx.moveTo(bx + bw - 2, yy); ctx.lineTo(bx + bw, yy); ctx.stroke();
      });
      ctx.restore();
    }
  };
  new Chart(canvasAt(cv), {
    type: 'bar',
    data: {
      datasets: fScores.map((row, r) => ({
        data: row.map((v, j) => ({ x: colX[j], y: [rowTop[r], rowTop[r] + 1] })),
        backgroundColor: row.map(inferno), borderColor: '#353535', borderWidth: 0.6, borderSkipped: false,
        grouped: false, barPercentage: 1, categoryPercentage: 1
      }))
    },
    options: {
      layout: { padding: padFor(cv, plot, 138, 0) },
      scales: {
        x: { type: 'linear', display: false, offset: false, min: -0.5, max: 15.7 },
        y: { type: 'linear', reverse: true, min: 0, max: total, afterFit: fixW(138),
             afterBuildTicks: s => { s.ticks = rowTop.map(t => ({ value: t + 0.5 })); },
             grid: noGrid, border: { display: false },
             ticks: { padding: 3, color: '#222', font: { size: 5.8 }, autoSkip: false, callback: (v, i) => fGenes[i] } }
      }
    },
    plugins: [decor]
  });
}

// ---------- G ----------
{
  const cv = [0, 670, 230, 180], plot = [27, 683, 190, 830];
  const dots = [];
  gDotRows.forEach((rows, g) => rows.forEach(([y, n]) => {
    for (let k = 0; k < n; k++) dots.push({ x: g + 1 + (k - (n - 1) / 2) * 0.1, y, g });
  }));
  const bracket = {
    id: 'gBracket',
    afterDraw(chart) {
      const { ctx, scales: { x, y } } = chart;
      const x0 = x.getPixelForValue(1), x1 = x.getPixelForValue(2), yt = y.getPixelForValue(3.62), yb = y.getPixelForValue(3.52);
      ctx.save();
      ctx.strokeStyle = '#333'; ctx.lineWidth = 0.8;
      ctx.beginPath(); ctx.moveTo(x0, yb); ctx.lineTo(x0, yt); ctx.lineTo(x1, yt); ctx.lineTo(x1, yb); ctx.stroke();
      ctx.font = `9px ${FONT}`; ctx.fillStyle = '#222'; ctx.textAlign = 'center'; ctx.textBaseline = 'bottom';
      ctx.fillText(gPval, (x0 + x1) / 2, yt - 1);
      ctx.restore();
    }
  };
  new Chart(canvasAt(cv), {
    type: 'bar',
    data: {
      datasets: [
        { type: 'line', data: dots, showLine: false, clip: false, pointRadius: 3.6, borderWidth: 0.8,
          pointBackgroundColor: dots.map(d => gDotColors[d.g]), pointBorderColor: '#111' },
        { data: gBars.map((y, i) => ({ x: i + 1, y })), backgroundColor: gBarColors, borderColor: '#444', borderWidth: 0.8,
          barPercentage: 0.76, categoryPercentage: 1 }
      ]
    },
    options: {
      layout: { padding: padFor(cv, plot, 27, 20) },
      scales: {
        x: { type: 'linear', offset: false, min: 0.405, max: 2.61, afterFit: fixH(20), afterBuildTicks: setTicks([1, 2]), grid: noGrid, border: blackBorder,
             ticks: { padding: 5, color: '#222', callback: (v, i) => gCats[i] } },
        y: { min: 0, max: 4.2, afterFit: fixW(27), afterBuildTicks: setTicks(gYTicks), grid: noGrid, border: blackBorder,
             ticks: { padding: 3, color: '#444' }, title: { display: true, text: 'number of aAbs', padding: { top: 5, bottom: 0 }, color: '#222' } }
      }
    },
    plugins: [bracket]
  });
}

// ---------- H ----------
{
  const cv = [230, 670, 441, 180], plot = [297, 678, 560, 828];
  new Chart(canvasAt(cv), {
    type: 'line',
    data: {
      datasets: hNames.map((n, i) => ({
        label: n, data: hOD[i].map((y, k) => ({ x: hDilution[k], y })), borderColor: hColors[i], backgroundColor: hColors[i],
        borderWidth: 2, pointRadius: 2.8, clip: false
      }))
    },
    options: {
      layout: { padding: padFor(cv, plot, 67, 22) },
      scales: {
        x: { type: 'linear', min: -3.27, max: -1.21, afterFit: fixH(22), afterBuildTicks: setTicks(hDilution), grid: noGrid, border: { display: true, color: '#444', width: 1 },
             ticks: { padding: 3, color: '#333' },
             title: { display: true, text: 'log(dilution)', padding: { top: 0, bottom: 0 }, color: '#222' } },
        y: { min: -0.01, max: 1.645, afterFit: fixW(67), afterBuildTicks: setTicks(hYTicks), grid: noGrid, border: { display: true, color: '#444', width: 1 },
             ticks: { padding: 3, color: '#333', callback: v => v.toFixed(1) },
             title: { display: true, text: 'OD450', padding: { top: 37, bottom: 0 }, color: '#222' } }
      }
    }
  });
  hNames.forEach((n, i) => {
    const yc = 688 + i * 17.6;
    const ln = document.createElement('div');
    ln.style.cssText = `position:absolute;left:583px;top:${yc - 1}px;width:14px;height:2px;background:${hColors[i]}`;
    document.body.appendChild(ln);
    const dot = document.createElement('div');
    dot.style.cssText = `position:absolute;left:586.5px;top:${yc - 3.5}px;width:7px;height:7px;border-radius:50%;background:${hColors[i]}`;
    document.body.appendChild(dot);
    const tx = document.createElement('div');
    tx.className = 'txt';
    tx.textContent = n;
    tx.style.cssText = `left:600px;top:${yc - 4.6}px;font-size:9.2px`;
    document.body.appendChild(tx);
  });
}
</script>
</body>
</html>
